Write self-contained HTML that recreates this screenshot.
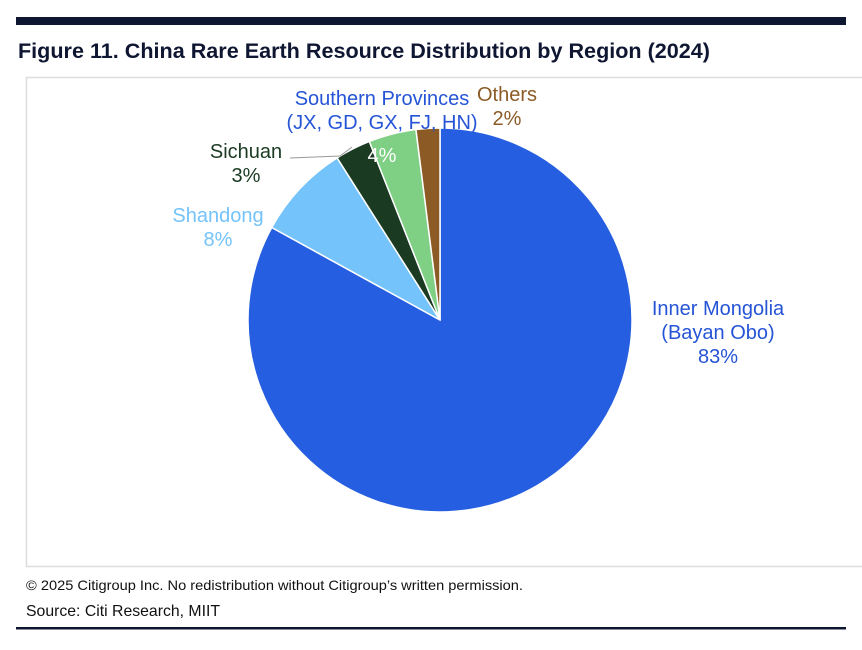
<!DOCTYPE html>
<html><head><meta charset="utf-8"><style>
html,body{margin:0;padding:0;background:#fff;width:862px;height:650px;overflow:hidden}
svg{display:block}
text{font-family:"Liberation Sans",sans-serif}
</style></head><body>
<svg id="chart" width="862" height="650" viewBox="0 0 862 650">
<rect x="16" y="17" width="830" height="8" fill="#0f1632"/>
<text x="18" y="58" font-size="21" font-weight="bold" fill="#0f1632" textLength="692" lengthAdjust="spacingAndGlyphs">Figure 11. China Rare Earth Resource Distribution by Region (2024)</text>
<rect x="26.5" y="77.5" width="840" height="489" fill="none" stroke="#dcdcdc" stroke-width="1.5"/>
<g id="slices"></g>
<g id="labels"></g>
<text x="26" y="590" font-size="14" fill="#111" textLength="497" lengthAdjust="spacingAndGlyphs">© 2025 Citigroup Inc. No redistribution without Citigroup’s written permission.</text>
<text x="26" y="616" font-size="16" fill="#111" textLength="194" lengthAdjust="spacingAndGlyphs">Source: Citi Research, MIIT</text>
<rect x="16" y="627" width="830" height="2.5" fill="#0f1632"/>
</svg>
<script>
const categories = ["Inner Mongolia (Bayan Obo)","Shandong","Sichuan","Southern Provinces (JX, GD, GX, FJ, HN)","Others"];
const values = [83, 8, 3, 4, 2];
const colors = ["#255ee0","#74c3fa","#1a3a22","#7fcf85","#8c5a25"];
const NS="http://www.w3.org/2000/svg";
const cx=440, cy=320, r=192;
const total=values.reduce((a,b)=>a+b,0);
function pt(a,rr){return [cx+rr*Math.sin(a), cy-rr*Math.cos(a)];}
const g=document.getElementById('slices');
let a0=0; const mids=[];
values.forEach((v,i)=>{
  const a1=a0+v/total*2*Math.PI;
  const p0=pt(a0,r), p1=pt(a1,r);
  const large=(a1-a0)>Math.PI?1:0;
  const p=document.createElementNS(NS,'path');
  p.setAttribute('d',`M${cx},${cy} L${p0[0]},${p0[1]} A${r},${r} 0 ${large} 1 ${p1[0]},${p1[1]} Z`);
  p.setAttribute('fill',colors[i]);
  p.setAttribute('stroke','#fff');
  p.setAttribute('stroke-width','1.5');
  
  
  g.appendChild(p);
  mids.push((a0+a1)/2);
  a0=a1;
});
const L=document.getElementById('labels');
function txt(lines,x,y,color,size,name){
  const t=document.createElementNS(NS,'text');
  t.setAttribute('x',x);t.setAttribute('y',y);t.setAttribute('fill',color);
  t.setAttribute('font-size',size);t.setAttribute('text-anchor','middle');
  
  
  lines.forEach((s,j)=>{const sp=document.createElementNS(NS,'tspan');sp.setAttribute('x',x);sp.setAttribute('dy',j?size*1.2:0);sp.textContent=s;t.appendChild(sp);});
  L.appendChild(t);
}
// leader line for Sichuan
const ln=document.createElementNS(NS,'polyline');
ln.setAttribute('points','290,158 340,156 '+pt(mids[2],r+2).join(','));
ln.setAttribute('fill','none');ln.setAttribute('stroke','#999');ln.setAttribute('stroke-width','1');


L.appendChild(ln);
txt(["Inner Mongolia","(Bayan Obo)",values[0]+"%"],718,315,"#2554d6",20,"label-inner-mongolia");
txt(["Shandong",values[1]+"%"],218,222,"#74c3fa",20,"label-shandong");
txt(["Sichuan",values[2]+"%"],246,158,"#1a3a22",20,"label-sichuan");
txt(["Southern Provinces","(JX, GD, GX, FJ, HN)"],382,105,"#2554d6",20,"label-southern-provinces");
txt([values[3]+"%"],382,162,"#ffffff",20,"label-southern-pct");
txt(["Others",values[4]+"%"],507,101,"#8c5a25",20,"label-others");
</script>
</body></html>
